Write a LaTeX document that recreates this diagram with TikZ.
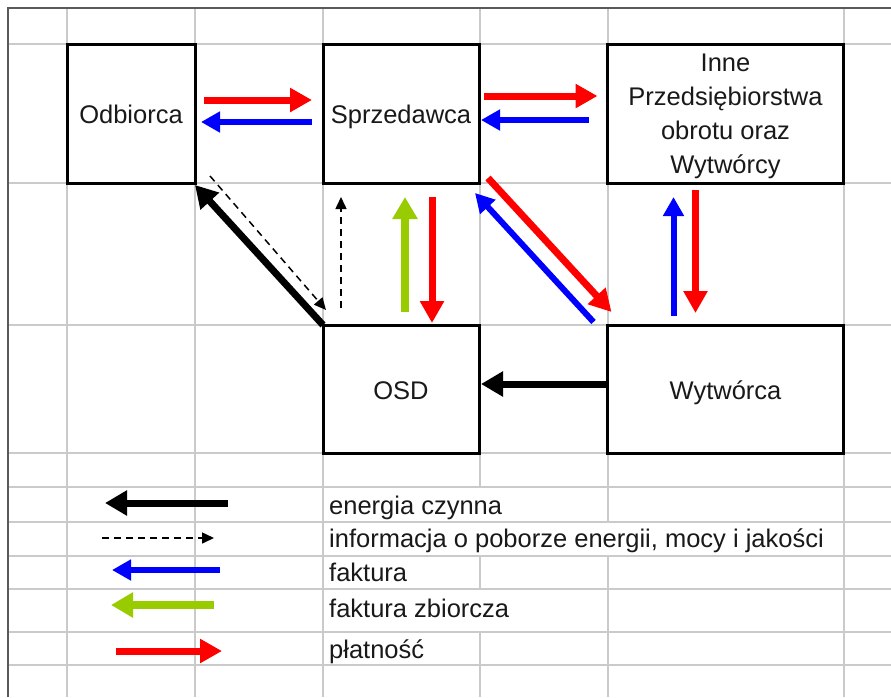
\documentclass[tikz,border=0pt]{standalone}
\usepackage{fontspec}
\setmainfont{Liberation Sans}
\usetikzlibrary{arrows.meta,calc}
\definecolor{xlgreen}{HTML}{99CC00}
\definecolor{gridgray}{HTML}{CACACA}
\definecolor{bordergray}{HTML}{5A5A5A}
\tikzset{
  gridline/.style={draw=gridgray, line width=1.3pt},
  box/.style={draw=black, line width=3pt, fill=white, inner sep=0pt, outer sep=0pt,
    text=black!90, font=\fontsize{25.5}{34}\selectfont, text depth=0pt},
  redarr/.style={draw=red, line width=7pt, -{Triangle[length=22pt,width=23pt]}},
  bluearr/.style={draw=blue, line width=6pt, -{Triangle[length=19pt,width=20pt]}},
  greenarr/.style={draw=xlgreen, line width=7.5pt, -{Triangle[length=22pt,width=24pt]}},
  blackarr/.style={draw=black, line width=7pt, -{Triangle[length=22pt,width=24pt]}},
  infoarr/.style={draw=black, line width=1.5pt, dash pattern=on 7pt off 5pt, -{Triangle[length=12pt,width=11pt]}},
  legtext/.style={anchor=base west, inner sep=0pt, text=black!90, font=\fontsize{25.5}{30}\selectfont}
}
\begin{document}
\begin{tikzpicture}[x=1pt,y=-1pt]
\useasboundingbox (0,0) rectangle (891,697);
\fill[white] (0,0) rectangle (891,697);
% grid
\foreach \y in {44,183,325,453,487,522,556,589,632,665} \draw[gridline] (8,\y) -- (891,\y);
\foreach \x in {67,195,323,844} \draw[gridline] (\x,8) -- (\x,697);
\draw[gridline] (480,8) -- (480,487) (480,556) -- (480,589) (480,632) -- (480,697);
\draw[gridline] (608,8) -- (608,522) (608,556) -- (608,697);
% border
\draw[bordergray, line width=2.5pt] (8,697) -- (8,8) -- (891,8);
% boxes
\node[box, minimum width=128pt, minimum height=139pt, text height=20pt] (odb) at (131,113.5) {Odbiorca};
\node[box, minimum width=156pt, minimum height=139pt, text height=20pt] (spr) at (401,113.5) {Sprzedawca};
\node[box, minimum width=236pt, minimum height=139pt, align=center] (inne) at (725.5,113.5) {Inne\\Przedsiębiorstwa\\obrotu oraz\\Wytwórcy};
\node[box, minimum width=156pt, minimum height=128pt, text height=20pt] (osd) at (401,389) {OSD};
\node[box, minimum width=236pt, minimum height=128pt, text height=20pt] (wyt) at (725.5,389) {Wytwórca};
% connectors
\draw[redarr] ($(odb.east)+(9,-13.5)$) -- ($(spr.west)+(-11,-13.5)$);
\draw[bluearr] ($(spr.west)+(-11,8.5)$) -- ($(odb.east)+(6,8.5)$);
\draw[redarr] ($(spr.east)+(5,-17.5)$) -- ($(inne.west)+(-10,-17.5)$);
\draw[bluearr] ($(inne.west)+(-19,6.5)$) -- ($(spr.east)+(2,6.5)$);
\draw[infoarr] ($(osd.north)+(-60,-17)$) -- ($(spr.south)+(-60,14)$);
\draw[greenarr] ($(osd.north)+(4,-13)$) -- ($(spr.south)+(4,14)$);
\draw[redarr] ($(spr.south)+(31,14)$) -- ($(osd.north)+(31,-2)$);
\draw[blackarr] (osd.north west) -- ($(odb.south east)+(0,2)$);
\draw[infoarr] ($(odb.south east)+(15,-7)$) -- ($(osd.north west)+(3,-15)$);
\draw[redarr] ($(spr.south east)+(9,-5)$) -- ($(wyt.north west)+(4,-13)$);
\draw[bluearr] ($(wyt.north west)+(-14,-3)$) -- ($(spr.south east)+(-4,10)$);
\draw[bluearr] ($(wyt.north)+(-52,-9)$) -- ($(inne.south)+(-52,14)$);
\draw[redarr] ($(inne.south)+(-30,7)$) -- ($(wyt.north)+(-30,-12)$);
\draw[blackarr] ($(wyt.west)+(0,-5)$) -- ($(osd.east)+(2,-5)$);
% legend
\coordinate (l1a) at (228,503); \coordinate (l1b) at (105,503);
\coordinate (l2a) at (102,538); \coordinate (l2b) at (214,538);
\coordinate (l3a) at (220,570); \coordinate (l3b) at (112,570);
\coordinate (l4a) at (214,605); \coordinate (l4b) at (111,605);
\coordinate (l5a) at (116,651); \coordinate (l5b) at (222,651);
\draw[blackarr] (l1a) -- (l1b);
\draw[infoarr] (l2a) -- (l2b);
\draw[bluearr] (l3a) -- (l3b);
\draw[greenarr] (l4a) -- (l4b);
\draw[redarr] (l5a) -- (l5b);
\node[legtext] (t1) at (329,514) {energia czynna};
\node[legtext] (t2) at (329,547) {informacja o poborze energii, mocy i jakości};
\node[legtext] (t3) at (329,581) {faktura};
\node[legtext] (t4) at (329,617) {faktura zbiorcza};
\node[legtext] (t5) at (329,658) {płatność};
\end{tikzpicture}
\end{document}
